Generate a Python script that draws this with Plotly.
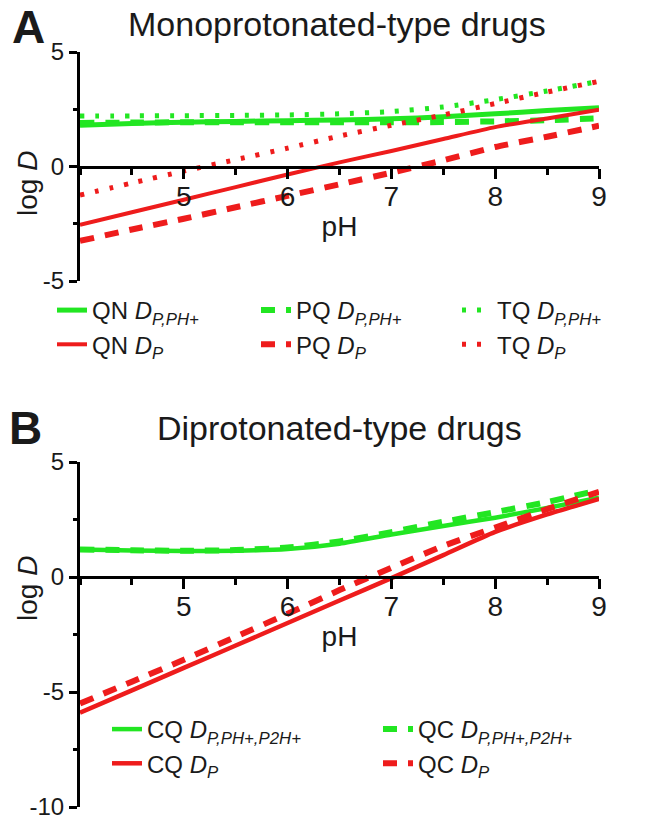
import plotly.graph_objects as go

# ---------------- data ----------------
ph = [4.0, 4.5, 5.0, 5.5, 6.0, 6.5, 7.0, 7.5, 8.0, 8.5, 9.0]

# Panel A: monoprotonated-type drugs
qn_pph = [1.80, 1.88, 1.93, 1.97, 2.00, 2.03, 2.08, 2.17, 2.30, 2.44, 2.57]
qn_p = [-2.55, -2.00, -1.45, -0.90, -0.35, 0.18, 0.68, 1.20, 1.72, 2.10, 2.48]
pq_pph = [1.90, 1.92, 1.93, 1.93, 1.93, 1.93, 1.93, 1.94, 1.97, 2.02, 2.10]
pq_p = [-3.25, -2.75, -2.28, -1.78, -1.28, -0.78, -0.27, 0.27, 0.85, 1.30, 1.78]
tq_pph = [2.20, 2.21, 2.22, 2.23, 2.25, 2.30, 2.40, 2.60, 2.92, 3.30, 3.72]
tq_p = [-1.25, -0.72, -0.20, 0.30, 0.80, 1.33, 1.80, 2.25, 2.75, 3.25, 3.72]

# Panel B: diprotonated-type drugs
cq_ppp = [1.20, 1.15, 1.13, 1.14, 1.22, 1.45, 1.85, 2.22, 2.58, 3.00, 3.45]
cq_p = [-5.90, -4.93, -3.95, -2.98, -2.00, -1.02, -0.05, 0.95, 1.96, 2.72, 3.40]
qc_ppp = [1.20, 1.16, 1.14, 1.17, 1.28, 1.55, 1.95, 2.40, 2.82, 3.26, 3.78]
qc_p = [-5.50, -4.55, -3.60, -2.60, -1.60, -0.57, 0.40, 1.35, 2.15, 2.95, 3.70]

x_ticks = [5, 6, 7, 8, 9]
x_ticktext = ["5", "6", "7", "8", "9"]
y_ticks_a = [-5, 0, 5]
y_ticktext_a = ["-5", "0", "5"]
y_ticks_b = [-10, -5, 0, 5]
y_ticktext_b = ["-10", "-5", "0", "5"]

# ---------------- styling ----------------
GREEN = "#22e622"
RED = "#ee1c1c"
FONT = "Arial, 'Liberation Sans', sans-serif"
TXT = "#1a1a1a"
DASH = "14px,11px"
DOT = "4px,11px"

# the page body has an 8px margin: the figure is sized to fit the window
OFF = 8
W, H = 649 - OFF, 825 - OFF
ML, MR, MT, MB = 80 - OFF, 50, 52 - OFF, 18
PW, PH = W - ML - MR, H - MT - MB


def xp(px):
    """window pixel x -> paper fraction"""
    return (px - OFF - ML) / PW


def yp(py):
    """window pixel y -> paper fraction"""
    return (H - MB - (py - OFF)) / PH


fig = go.Figure()

sub_pph = "<i>D</i><sub><i>P,PH+</i></sub>"
sub_ppp = "<i>D</i><sub><i>P,PH+,P2H+</i></sub>"
sub_p = "<i>D</i><sub><i>P</i></sub>"

# (name, values, colour, dash, width, legend column)
top_series = [
    ("QN " + sub_pph, qn_pph, GREEN, "solid", 5, "legend"),
    ("PQ " + sub_pph, pq_pph, GREEN, DASH, 6, "legend2"),
    ("TQ " + sub_pph, tq_pph, GREEN, DOT, 5, "legend3"),
    ("QN " + sub_p, qn_p, RED, "solid", 4, "legend"),
    ("PQ " + sub_p, pq_p, RED, DASH, 6, "legend2"),
    ("TQ " + sub_p, tq_p, RED, DOT, 5, "legend3"),
]
for name, ys, col, dash, w, lg in top_series:
    fig.add_trace(go.Scatter(
        x=ph, y=ys, mode="lines", name=name,
        line=dict(color=col, dash=dash, width=w, shape="spline", smoothing=0.6),
        xaxis="x", yaxis="y", legend=lg))

bottom_series = [
    ("CQ " + sub_ppp, cq_ppp, GREEN, "solid", 4.5, "legend4"),
    ("QC " + sub_ppp, qc_ppp, GREEN, DASH, 6, "legend5"),
    ("CQ " + sub_p, cq_p, RED, "solid", 4.5, "legend4"),
    ("QC " + sub_p, qc_p, RED, DASH, 6, "legend5"),
]
for name, ys, col, dash, w, lg in bottom_series:
    fig.add_trace(go.Scatter(
        x=ph, y=ys, mode="lines", name=name,
        line=dict(color=col, dash=dash, width=w, shape="spline", smoothing=0.6),
        xaxis="x2", yaxis="y2", legend=lg))

xaxis_common = dict(
    range=[4, 9], showgrid=False, zeroline=False, showline=True,
    linecolor="black", linewidth=3, ticks="outside", ticklen=10,
    tickwidth=3, tickcolor="black", tickvals=x_ticks, ticktext=x_ticktext,
    tickfont=dict(family=FONT, size=28, color=TXT), ticklabelstandoff=-7,
    minor=dict(dtick=0.5, tick0=4, ticklen=6, tickwidth=3,
               tickcolor="black", ticks="outside", showgrid=False),
    title=dict(text="pH", font=dict(family=FONT, size=28, color=TXT), standoff=5),
    domain=[0, 1], anchor="free", automargin=False,
)
yaxis_common = dict(
    showgrid=False, zeroline=False, showline=True, linecolor="black",
    linewidth=3, ticks="outside", ticklen=8, tickwidth=3, tickcolor="black",
    tickfont=dict(family=FONT, size=24, color=TXT), automargin=False,
    minor=dict(dtick=2.5, tick0=0, ticklen=4, tickwidth=3,
               tickcolor="black", ticks="outside", showgrid=False),
)

legend_common = dict(xanchor="left", yanchor="top", orientation="v",
                     font=dict(family=FONT, size=24, color=TXT),
                     bgcolor="rgba(0,0,0,0)", itemwidth=30, borderwidth=0)

fig.update_layout(
    width=W, height=H,
    margin=dict(l=ML, r=MR, t=MT, b=MB, autoexpand=False),
    paper_bgcolor="white", plot_bgcolor="white",
    font=dict(family=FONT, color=TXT),
    xaxis=dict(**xaxis_common, position=yp(167)),
    xaxis2=dict(**xaxis_common, position=yp(577)),
    yaxis=dict(**yaxis_common, range=[-5, 5], tickvals=y_ticks_a,
               ticktext=y_ticktext_a, domain=[yp(281), 1.0], anchor="x"),
    yaxis2=dict(**yaxis_common, range=[-10, 5], tickvals=y_ticks_b,
                ticktext=y_ticktext_b, domain=[0, yp(462)], anchor="x2"),
    showlegend=True,
    legend=dict(**legend_common, x=xp(52), y=yp(288)),
    legend2=dict(**legend_common, x=xp(256), y=yp(288)),
    legend3=dict(**legend_common, x=xp(457), y=yp(288)),
    legend4=dict(**legend_common, x=xp(107), y=yp(707)),
    legend5=dict(**legend_common, x=xp(378), y=yp(707)),
)

ann = [
    dict(text="<b>A</b>", x=xp(28), y=yp(27), size=46),
    dict(text="Monoprotonated-type drugs", x=xp(337), y=yp(24), size=34),
    dict(text="<b>B</b>", x=xp(25), y=yp(428), size=46),
    dict(text="Diprotonated-type drugs", x=xp(339), y=yp(428), size=34),
]
for a in ann:
    fig.add_annotation(text=a["text"], x=a["x"], y=a["y"], xref="paper",
                       yref="paper", xanchor="center", yanchor="middle",
                       showarrow=False,
                       font=dict(family=FONT, size=a["size"], color=TXT))

for yc in (184, 589):
    fig.add_annotation(text="log <i>D</i>", x=xp(27), y=yp(yc), xref="paper",
                       yref="paper", xanchor="center", yanchor="middle",
                       textangle=-90, showarrow=False,
                       font=dict(family=FONT, size=28, color=TXT))

fig.write_html("out.html")
